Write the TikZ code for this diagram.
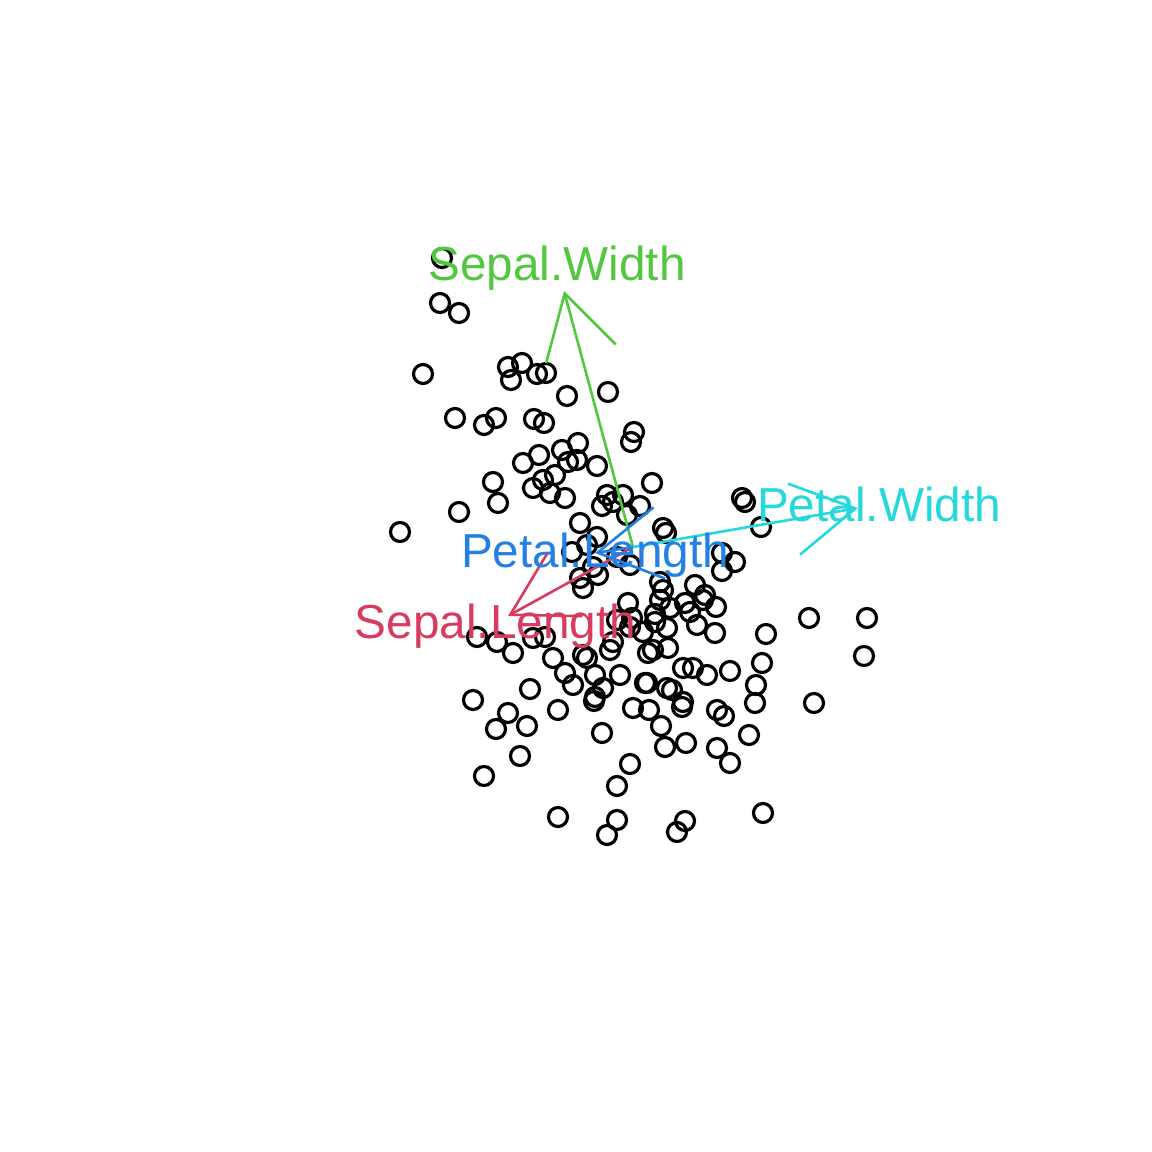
\documentclass[tikz,border=0pt]{standalone}
\usepackage{fontspec}
\setmainfont{Liberation Sans}
\usepackage{tikz}
\usetikzlibrary{arrows.meta}
\definecolor{slred}{RGB}{215, 60, 95}
\definecolor{swgreen}{RGB}{83, 199, 64}
\definecolor{plblue}{RGB}{35, 128, 228}
\definecolor{pwcyan}{RGB}{38, 216, 222}
\tikzset{
	obs/.style = {circle, draw, line width = 3.2pt, minimum size = 19pt, inner sep = 0pt},
	loading/.style = {line width = 2.6pt, -{Straight Barb[angle = 60:72pt, line width = 2.6pt]}},
	varlabel/.style = {anchor = base, inner sep = 0pt, font = \fontsize{47.7}{57}\selectfont}
}

\begin{document}
\begin{tikzpicture}[x = 1pt, y = -1pt]
		\useasboundingbox (0,0) rectangle (1152,1152);
		% scores
		\foreach \x/\y [count = \i] in {
			442/258, 440/303, 459/313, 423/374, 508/367, 522/363, 511/380, 537/374, 546/373,
			567/396, 608/392, 455/418, 484/425, 496/418, 534/419, 544/423, 634/432, 631/442,
			578/443, 562/450, 539/455, 523/463, 577/460, 568/462, 597/466, 555/475, 543/480,
			533/488, 493/482, 498/503, 459/512, 652/483, 550/493, 565/498, 607/495, 613/502,
			623/495, 602/506, 640/506, 627/515, 580/523, 663/528, 666/533, 742/498, 745/502,
			761/527, 400/532, 597/537, 587/545, 572/552, 593/567, 617/557, 630/565, 580/578,
			583/588, 598/575, 660/582, 663/590, 660/600, 695/585, 685/603, 690/612, 670/608,
			655/614, 628/603, 632/618, 617/620, 667/628, 697/625, 643/632, 722/553, 735/562,
			722/571, 705/595, 703/600, 716/607, 715/633, 766/634, 809/618, 867/618, 864/656,
			762/663, 756/685, 755/703, 814/703, 730/671, 707/675, 693/668, 683/668, 653/650,
			648/653, 668/648, 647/683, 672/690, 667/688, 683/702, 682/707, 717/710, 724/716,
			649/710, 661/726, 665/747, 686/743, 717/748, 730/763, 749/735, 763/813, 685/821,
			677/832, 477/637, 497/642, 513/653, 533/638, 545/637, 553/658, 565/673, 573/685,
			530/689, 473/700, 508/713, 496/729, 527/726, 558/710, 520/756, 484/776, 587/658,
			583/655, 595/675, 603/688, 595/697, 594/701, 610/650, 613/642, 620/675, 602/733,
			630/764, 617/786, 558/817, 617/820, 607/835, 645/683, 633/708, 630/627, 655/622}
			\node[obs] (o\i) at (\x,\y) {};
		% loadings
		\coordinate (origin) at (633,547);
		\coordinate (sl) at (508,616);
		\coordinate (sw) at (564,291);
		\coordinate (pl) at (595,553);
		\coordinate (pw) at (858,508);
		\draw[loading, slred] (origin) -- (sl);
		\draw[loading, swgreen] (origin) -- (sw);
		\draw[loading, plblue] (origin) -- (pl);
		\draw[loading, pwcyan] (origin) -- (pw);
		\node[varlabel, text = slred] (slLabel) at (495.5,638) {Sepal.Length};
		\node[varlabel, text = swgreen] (swLabel) at (557,280) {Sepal.Width};
		\node[varlabel, text = plblue] (plLabel) at (595,567) {Petal.Length};
		\node[varlabel, text = pwcyan] (pwLabel) at (879,521) {Petal.Width};
\end{tikzpicture}
\end{document}
